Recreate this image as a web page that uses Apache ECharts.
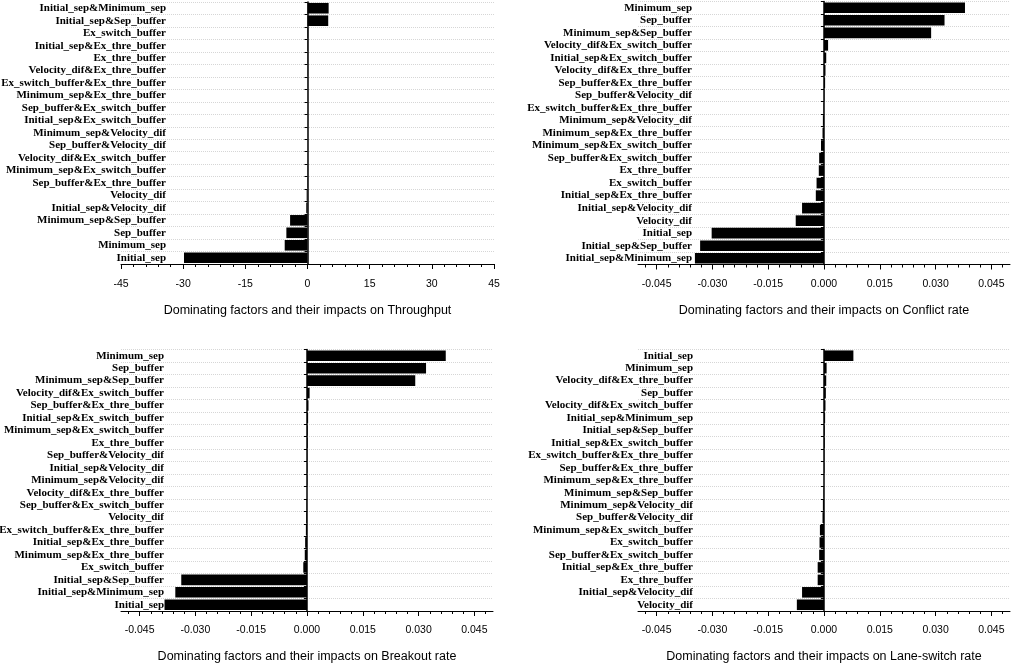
<!DOCTYPE html>
<html><head><meta charset="utf-8">
<script src="https://cdn.jsdelivr.net/npm/echarts@6/dist/echarts.min.js"></script>
<style>html,body{margin:0;padding:0;background:#fff}#c{width:1013px;height:665px}</style>
</head><body><div id="c"></div>
<script>
// ---------- data (top of each panel first) ----------
const throughputCats = ["Initial_sep&Minimum_sep","Initial_sep&Sep_buffer","Ex_switch_buffer","Initial_sep&Ex_thre_buffer","Ex_thre_buffer","Velocity_dif&Ex_thre_buffer","Ex_switch_buffer&Ex_thre_buffer","Minimum_sep&Ex_thre_buffer","Sep_buffer&Ex_switch_buffer","Initial_sep&Ex_switch_buffer","Minimum_sep&Velocity_dif","Sep_buffer&Velocity_dif","Velocity_dif&Ex_switch_buffer","Minimum_sep&Ex_switch_buffer","Sep_buffer&Ex_thre_buffer","Velocity_dif","Initial_sep&Velocity_dif","Minimum_sep&Sep_buffer","Sep_buffer","Minimum_sep","Initial_sep"];
const throughputVals = [5.1,5.0,0.15,0.1,0.08,0.05,0.03,0.02,0.01,0.0,-0.01,-0.02,-0.03,-0.05,-0.08,-0.2,-0.3,-4.2,-5.1,-5.5,-29.8];

const conflictCats = ["Minimum_sep","Sep_buffer","Minimum_sep&Sep_buffer","Velocity_dif&Ex_switch_buffer","Initial_sep&Ex_switch_buffer","Velocity_dif&Ex_thre_buffer","Sep_buffer&Ex_thre_buffer","Sep_buffer&Velocity_dif","Ex_switch_buffer&Ex_thre_buffer","Minimum_sep&Velocity_dif","Minimum_sep&Ex_thre_buffer","Minimum_sep&Ex_switch_buffer","Sep_buffer&Ex_switch_buffer","Ex_thre_buffer","Ex_switch_buffer","Initial_sep&Ex_thre_buffer","Initial_sep&Velocity_dif","Velocity_dif","Initial_sep","Initial_sep&Sep_buffer","Initial_sep&Minimum_sep"];
const conflictVals = [0.0379,0.0324,0.0288,0.0011,0.0006,0.0004,0.0003,0.0001,-0.0001,-0.0003,-0.0004,-0.0008,-0.0013,-0.0014,-0.0020,-0.0022,-0.0059,-0.0076,-0.0302,-0.0333,-0.0347];

const breakoutCats = ["Minimum_sep","Sep_buffer","Minimum_sep&Sep_buffer","Velocity_dif&Ex_switch_buffer","Sep_buffer&Ex_thre_buffer","Initial_sep&Ex_switch_buffer","Minimum_sep&Ex_switch_buffer","Ex_thre_buffer","Sep_buffer&Velocity_dif","Initial_sep&Velocity_dif","Minimum_sep&Velocity_dif","Velocity_dif&Ex_thre_buffer","Sep_buffer&Ex_switch_buffer","Velocity_dif","Ex_switch_buffer&Ex_thre_buffer","Initial_sep&Ex_thre_buffer","Minimum_sep&Ex_thre_buffer","Ex_switch_buffer","Initial_sep&Sep_buffer","Initial_sep&Minimum_sep","Initial_sep"];
const breakoutVals = [0.0373,0.0320,0.0291,0.0007,0.0004,0.0003,0.0002,0.0002,0.0001,0.0001,0.0001,0.0000,-0.0001,-0.0002,-0.0003,-0.0005,-0.0006,-0.0010,-0.0338,-0.0354,-0.0383];

const laneCats = ["Initial_sep","Minimum_sep","Velocity_dif&Ex_thre_buffer","Sep_buffer","Velocity_dif&Ex_switch_buffer","Initial_sep&Minimum_sep","Initial_sep&Sep_buffer","Initial_sep&Ex_switch_buffer","Ex_switch_buffer&Ex_thre_buffer","Sep_buffer&Ex_thre_buffer","Minimum_sep&Ex_thre_buffer","Minimum_sep&Sep_buffer","Minimum_sep&Velocity_dif","Sep_buffer&Velocity_dif","Minimum_sep&Ex_switch_buffer","Ex_switch_buffer","Sep_buffer&Ex_switch_buffer","Initial_sep&Ex_thre_buffer","Ex_thre_buffer","Initial_sep&Velocity_dif","Velocity_dif"];
const laneVals = [0.0079,0.0007,0.0006,0.0005,0.0004,0.0003,0.0002,0.0002,0.0001,0.0001,0.0000,-0.0001,-0.0003,-0.0004,-0.0011,-0.0012,-0.0013,-0.0017,-0.0017,-0.0059,-0.0073];

const throughputTicks = [-45,-30,-15,0,15,30,45];
const rateTicks = [-0.045,-0.030,-0.015,0.000,0.015,0.030,0.045];

const titles = [
  "Dominating factors and their impacts on Throughput",
  "Dominating factors and their impacts on Conflict rate",
  "Dominating factors and their impacts on Breakout rate",
  "Dominating factors and their impacts on Lane-switch rate"
];

// ---------- layout ----------
function minorTicks(lo, hi, step){
  const out=[]; const n=Math.round((hi-lo)/step);
  for(let k=0;k<=n;k++) out.push(+(lo+k*step).toFixed(6));
  return out;
}
const panels = [
  {cats:throughputCats, vals:throughputVals, ticks:throughputTicks, min:-45, max:45, minor:minorTicks(-45,45,3), dec:0,
   grid:{left:121,top:2,width:373,height:262}, labelMargin:-45, tickMargin:15, nameGap:40},
  {cats:conflictCats, vals:conflictVals, ticks:rateTicks, min:-0.05, max:0.05, minor:minorTicks(-0.048,0.048,0.003), dec:3,
   grid:{left:638,top:1.5,width:372,height:263}, labelMargin:-54, tickMargin:14, nameGap:40},
  {cats:breakoutCats, vals:breakoutVals, ticks:rateTicks, min:-0.05, max:0.05, minor:minorTicks(-0.048,0.048,0.003), dec:3,
   grid:{left:121,top:349.5,width:372,height:261.5}, labelMargin:-43, tickMargin:14, nameGap:39},
  {cats:laneCats, vals:laneVals, ticks:rateTicks, min:-0.05, max:0.05, minor:minorTicks(-0.048,0.048,0.003), dec:3,
   grid:{left:638,top:349.5,width:372,height:261.5}, labelMargin:-55, tickMargin:14, nameGap:39}
];

const grid=[], xAxis=[], yAxis=[], series=[];
panels.forEach((p,i)=>{
  grid.push(Object.assign({containLabel:false, outerBoundsMode:'none'}, p.grid));
  xAxis.push({
    gridIndex:i, type:'value', min:p.min, max:p.max, position:'bottom',
    axisLine:{show:true,onZero:false,lineStyle:{color:'#000',width:1}},
    axisTick:{show:true,customValues:p.ticks,length:5,lineStyle:{color:'#000',width:1}},
    axisLabel:{customValues:p.ticks,margin:p.tickMargin,fontFamily:'Liberation Sans',fontSize:10.5,color:'#000',
      formatter:v=>Number(v).toFixed(p.dec)},
    splitLine:{show:false},
    name:titles[i], nameLocation:'middle', nameGap:p.nameGap,
    nameTextStyle:{fontFamily:'Liberation Sans',fontSize:12.5,color:'#000'}
  });
  xAxis.push({
    gridIndex:i, type:'value', min:p.min, max:p.max, position:'bottom',
    axisLine:{show:false,onZero:false},
    axisTick:{show:true,customValues:p.minor,length:3,lineStyle:{color:'#000',width:1}},
    axisLabel:{show:false}, splitLine:{show:false}
  });
  yAxis.push({
    gridIndex:i, type:'category', data:p.cats, inverse:true,
    axisLine:{show:true,onZero:true,lineStyle:{color:'#000',width:1.5}},
    axisTick:{show:true,length:3,lineStyle:{color:'#000',width:1}},
    axisLabel:{interval:0,margin:p.labelMargin,fontFamily:'Liberation Serif',fontWeight:'bold',fontSize:11,color:'#000'},
    splitLine:{show:true,lineStyle:{type:'dotted',color:'#d6d6d6',width:1}}
  });
  series.push({
    type:'bar', xAxisIndex:2*i, yAxisIndex:i, data:p.vals,
    barCategoryGap:'15%', itemStyle:{color:'#000'}, silent:true
  });
});

const chart = echarts.init(document.getElementById('c'), null, {renderer:'canvas'});
chart.setOption({animation:false, backgroundColor:'#fff', grid, xAxis, yAxis, series});
</script>
</body></html>
